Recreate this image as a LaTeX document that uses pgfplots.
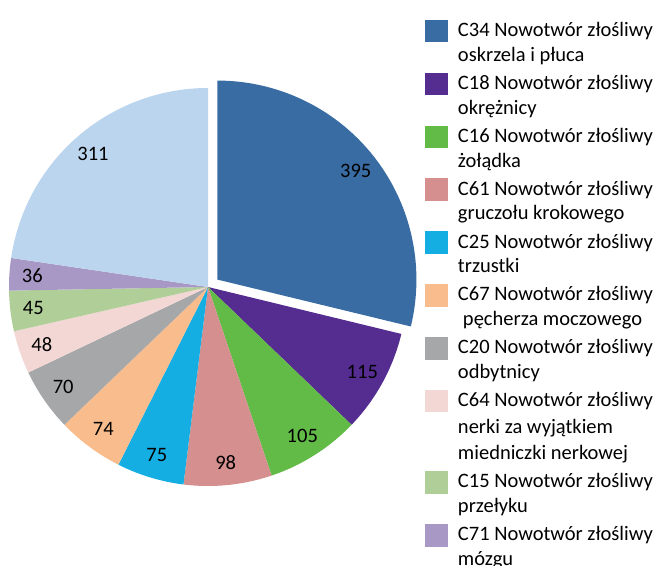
\documentclass[border=0pt]{standalone}
\usepackage{fontspec}
\setmainfont{Carlito}
\usepackage{pgfplots}
\pgfplotsset{compat=1.18}
\definecolor{c34}{HTML}{386CA3}
\definecolor{c18}{HTML}{552D91}
\definecolor{c16}{HTML}{62BB47}
\definecolor{c61}{HTML}{D58F8F}
\definecolor{c25}{HTML}{15AEE3}
\definecolor{c67}{HTML}{F9BC8C}
\definecolor{c20}{HTML}{A6A7A9}
\definecolor{c64}{HTML}{F2D7D5}
\definecolor{c15}{HTML}{B0CE97}
\definecolor{c71}{HTML}{A898C6}
\definecolor{cother}{HTML}{BBD5EE}
\newcommand\legfont{\fontsize{20.5bp}{24.8bp}\selectfont}
\newcommand\leg[2]{\begin{tabular}[t]{@{}l@{}}#1\\#2\end{tabular}}
\newcommand\legiii[3]{\begin{tabular}[t]{@{}l@{}}#1\\[1.5bp]#2\\[2bp]#3\end{tabular}}
\def\pietotal{1372}
\def\cx{208}\def\cy{279}\def\rr{199}\def\lr{176}
% #1 cumulative start, #2 value, #3 colour, #4 explode offset
\newcommand\pieslice[4]{%
  \pgfmathsetmacro\sa{360/\pietotal*#1}%
  \pgfmathsetmacro\sb{360/\pietotal*(#1+#2)}%
  \pgfmathsetmacro\sm{(\sa+\sb)/2}%
  \pgfmathsetmacro\ox{\cx+#4*sin(\sm)}%
  \pgfmathsetmacro\oy{\cy+#4*cos(\sm)}%
  \pgfmathsetmacro\lx{\ox+\lr*sin(\sm)}%
  \pgfmathsetmacro\ly{\oy+\lr*cos(\sm)}%
  \edef\doslice{%
    \noexpand\addplot[fill=#3, draw=none, domain=\sa:\sb, samples=90, forget plot]
      ({\ox+\rr*sin(x)},{\oy+\rr*cos(x)}) -- (axis cs:\ox,\oy) -- cycle;
    \noexpand\addplot[draw=none, forget plot, nodes near coords, point meta=explicit symbolic,
      nodes near coords style={anchor=center, inner sep=0pt, font=\noexpand\legfont}]
      coordinates {(\lx,\ly) [#2]};
  }%
  \doslice
}
\begin{document}
\begin{tikzpicture}
\path[use as bounding box, clip] (0,0) rectangle (659bp,566bp);
\begin{axis}[
  at={(0,0)}, anchor=south west,
  width=659bp, height=566bp, scale only axis,
  xmin=0, xmax=659, ymin=0, ymax=566,
  hide axis, clip=false,
  legend image code/.code={\fill[#1, draw=none] (0bp,-5.7bp) rectangle (22.8bp,16.7bp);},
  legend style={at={(0.6449,0.9667)}, anchor=north west, draw=none, fill=none,
    inner sep=0pt, row sep=3.3bp, column sep=10bp, font=\legfont,
    cells={anchor=base west}, nodes={inner sep=0pt, text depth=}},
]
\pieslice{0}{395}{c34}{12}
\pieslice{395}{115}{c18}{0}
\pieslice{510}{105}{c16}{0}
\pieslice{615}{98}{c61}{0}
\pieslice{713}{75}{c25}{0}
\pieslice{788}{74}{c67}{0}
\pieslice{862}{70}{c20}{0}
\pieslice{932}{48}{c64}{0}
\pieslice{980}{45}{c15}{0}
\pieslice{1025}{36}{c71}{0}
\pieslice{1061}{311}{cother}{0}
\addlegendimage{fill=c34}\addlegendentry{\leg{C34 Nowotwór złośliwy}{oskrzela i płuca}}
\addlegendimage{fill=c18}\addlegendentry{\leg{C18 Nowotwór złośliwy}{okrężnicy}}
\addlegendimage{fill=c16}\addlegendentry{\leg{C16 Nowotwór złośliwy}{żołądka}}
\addlegendimage{fill=c61}\addlegendentry{\leg{C61 Nowotwór złośliwy}{gruczołu krokowego}}
\addlegendimage{fill=c25}\addlegendentry{\leg{C25 Nowotwór złośliwy}{trzustki}}
\addlegendimage{fill=c67}\addlegendentry{\leg{C67 Nowotwór złośliwy}{\hspace{5bp}pęcherza moczowego}}
\addlegendimage{fill=c20}\addlegendentry{\leg{C20 Nowotwór złośliwy}{odbytnicy}}
\addlegendimage{fill=c64}\addlegendentry{\legiii{C64 Nowotwór złośliwy}{nerki za wyjątkiem}{miedniczki nerkowej}}
\addlegendimage{fill=c15}\addlegendentry{\leg{C15 Nowotwór złośliwy}{przełyku}}
\addlegendimage{fill=c71}\addlegendentry{\leg{C71 Nowotwór złośliwy}{mózgu}}
\end{axis}
\end{tikzpicture}
\end{document}
